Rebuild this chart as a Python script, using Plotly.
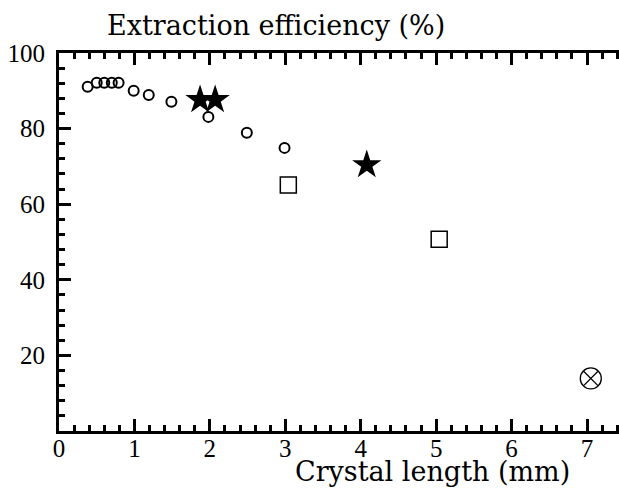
import plotly.graph_objects as go

# Data
circ_x = [0.38, 0.50, 0.60, 0.70, 0.79, 0.99, 1.19, 1.49, 1.98, 2.49, 2.99]
circ_y = [91.1, 92.1, 92.1, 92.1, 92.1, 90.0, 88.9, 87.1, 83.1, 78.9, 74.9]
star_x = [1.87, 2.07, 4.08]
star_y = [87.6, 87.6, 70.4]
sq_x = [3.04, 5.04]
sq_y = [65.1, 50.7]
ox_x = [7.05]
ox_y = [13.9]

x_ticks = [0, 1, 2, 3, 4, 5, 6, 7]
y_ticks = [20, 40, 60, 80, 100]
y_right_ticks = [20, 40, 60, 80]

TICK_FONT = "Liberation Serif"
TITLE_FONT = "DejaVu Serif"
W, H = 619, 488
L = 58.5
T = 53
BOT = 431
PX_PER_X = 75.5
RIGHT = W
X_MAX = (RIGHT - L) / PX_PER_X
PW = RIGHT - L
PH = BOT - T

fig = go.Figure()
fig.add_trace(go.Scatter(x=circ_x, y=circ_y, mode="markers",
                         marker=dict(symbol="circle-open", size=10, color="black", line=dict(width=2))))
fig.add_trace(go.Scatter(x=star_x, y=star_y, mode="markers",
                         marker=dict(symbol="star", size=22, color="black", line=dict(width=0))))
fig.add_trace(go.Scatter(x=sq_x, y=sq_y, mode="markers",
                         marker=dict(symbol="square-open", size=16, color="black", line=dict(width=1.5))))
fig.add_trace(go.Scatter(x=ox_x, y=ox_y, mode="markers",
                         marker=dict(symbol="circle-x-open", size=21, color="black", line=dict(width=1.3))))

axis_common = dict(showgrid=False, zeroline=False, linecolor="black", linewidth=3,
                   ticks="inside", tickcolor="black", tickwidth=3, automargin=False,
                   tickfont=dict(family=TICK_FONT, size=25, color="black"))

fig.update_layout(
    template="none",
    width=W, height=H,
    margin=dict(l=L, r=W - RIGHT, t=T, b=H - BOT, pad=0, autoexpand=False),
    paper_bgcolor="white", plot_bgcolor="white",
    showlegend=False,
    xaxis=dict(range=[0, X_MAX], tickvals=x_ticks, ticktext=[str(v) for v in x_ticks],
               showline=True, mirror="allticks", ticklen=12, ticklabelstandoff=-7,
               minor=dict(dtick=0.2, tick0=0, ticks="inside", ticklen=6, tickwidth=3, tickcolor="black"),
               **axis_common),
    yaxis=dict(range=[0, 100], tickvals=y_ticks, ticktext=[str(v) for v in y_ticks],
               showline=True, ticklen=12, ticklabelstandoff=6,
               minor=dict(dtick=4, tick0=0, ticks="inside", ticklen=6, tickwidth=3, tickcolor="black"),
               **axis_common),
    yaxis2=dict(range=[0, 100], overlaying="y", side="right", tickvals=y_right_ticks,
                showticklabels=False, showline=False, showgrid=False, zeroline=False, automargin=False,
                ticks="inside", ticklen=6, tickwidth=3, tickcolor="black"),
    annotations=[
        dict(text="Extraction efficiency (%)", xref="paper", yref="paper",
             x=(276 - L) / PW, y=1 + (T - 25) / PH, xanchor="center", yanchor="middle",
             showarrow=False, font=dict(family=TITLE_FONT, size=27, color="black")),
        dict(text="Crystal length (mm)", xref="paper", yref="paper",
             x=(432 - L) / PW, y=-(472 - BOT) / PH, xanchor="center", yanchor="middle",
             showarrow=False, font=dict(family=TITLE_FONT, size=27, color="black")),
    ],
)

fig.write_html("out.html", config={"displayModeBar": False},
               post_script="document.body.style.margin='0';document.body.style.overflow='hidden';")
